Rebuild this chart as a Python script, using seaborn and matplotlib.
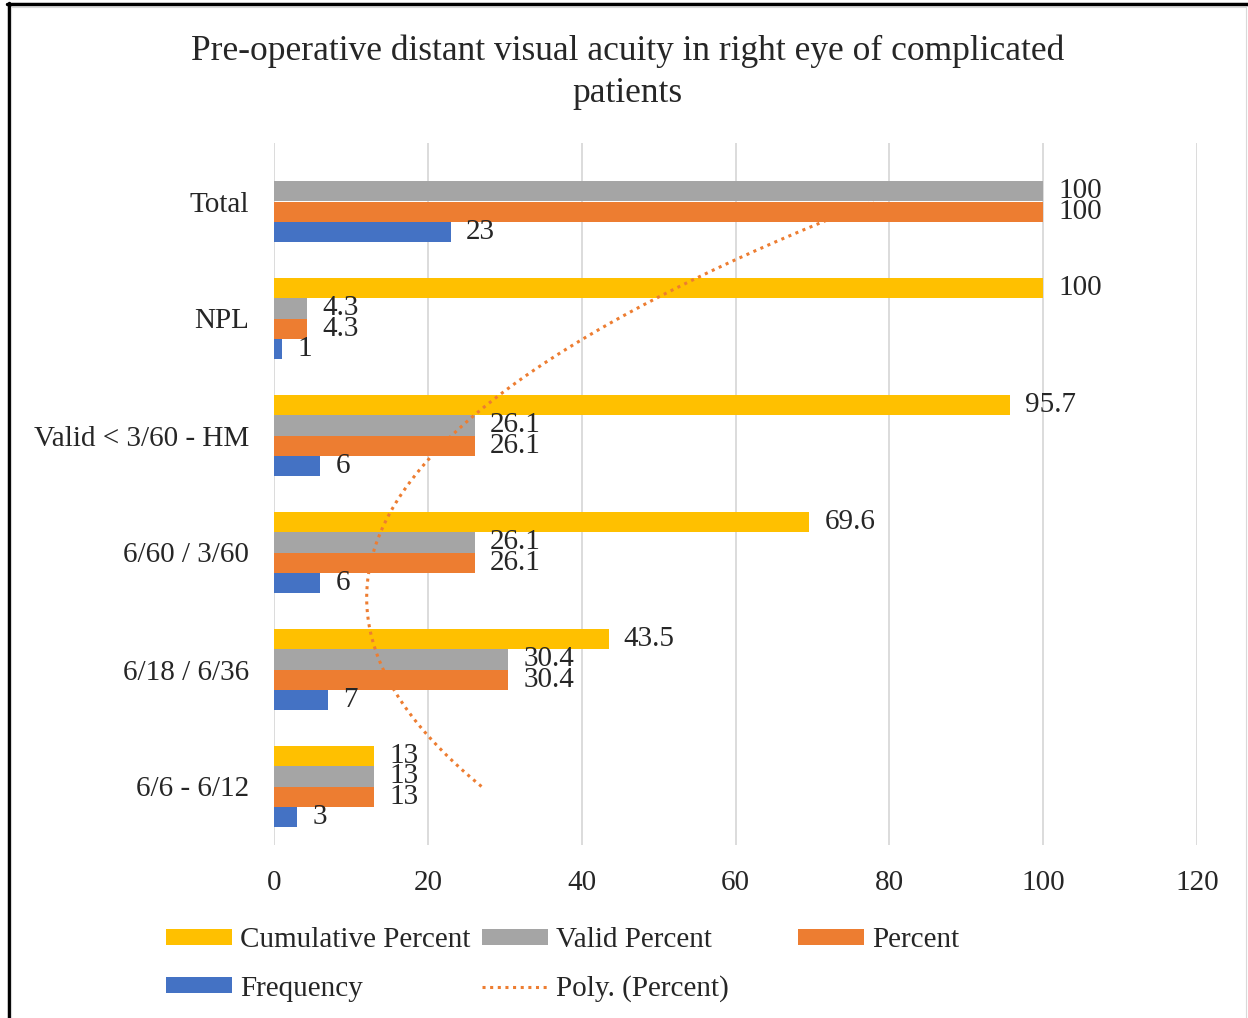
import matplotlib
matplotlib.use("Agg")
import matplotlib.pyplot as plt
from matplotlib.patches import Patch
from matplotlib.lines import Line2D
import seaborn as sns
import pandas as pd
import numpy as np

categories = ["6/6 - 6/12", "6/18 / 6/36", "6/60 / 3/60", "Valid < 3/60 - HM", "NPL", "Total"]
frequency = [3, 7, 6, 6, 1, 23]
percent = [13, 30.4, 26.1, 26.1, 4.3, 100]
valid_percent = [13, 30.4, 26.1, 26.1, 4.3, 100]
cumulative_percent = [13, 43.5, 69.6, 95.7, 100, np.nan]

series = ["Cumulative Percent", "Valid Percent", "Percent", "Frequency"]
colors = {"Cumulative Percent": "#FFC000", "Valid Percent": "#A5A5A5",
          "Percent": "#ED7D31", "Frequency": "#4472C4"}

sns.set_style("white")
plt.rcParams["font.family"] = ["Liberation Serif", "DejaVu Serif"]

FS = 21

rows = []
for name, vals in zip(series, [cumulative_percent, valid_percent, percent, frequency]):
    for cat, v in zip(categories, vals):
        rows.append({"category": cat, "series": name, "value": v})
df = pd.DataFrame(rows).dropna()

fig = plt.figure(figsize=(12.48, 10.18), dpi=100)
ax = fig.add_axes([274 / 1248, 173 / 1018, 923 / 1248, 702 / 1018])

sns.barplot(data=df, x="value", y="category", hue="series", orient="h",
            order=categories[::-1], hue_order=series, palette=colors,
            width=0.7, gap=0, errorbar=None, saturation=1, linewidth=0,
            legend=False, ax=ax)

for cont in ax.containers:
    ax.bar_label(cont, fmt="{:g}", padding=11, fontsize=FS)

# polynomial (order 2) trendline on Percent, as Excel draws it
t = np.arange(1, len(categories) + 1)
coef = np.polyfit(t, percent, 2)
ts = np.linspace(1, len(categories), 300)
ax.plot(np.polyval(coef, ts), len(categories) - ts, color="#ED7D31",
        linewidth=2.2, linestyle=(0, (1, 1.5)))

ax.set_xlim(0, 120)
ax.set_ylim(len(categories) - 0.5, -0.5)
ax.set_xticks(range(0, 121, 20))
ax.xaxis.grid(True, color="#d9d9d9", linewidth=1.3)
ax.set_axisbelow(True)
for s in ax.spines.values():
    s.set_visible(False)
ax.tick_params(axis="both", length=0, labelsize=FS)
ax.tick_params(axis="x", pad=18)
ax.tick_params(axis="y", pad=18)
ax.set_xlabel("")
ax.set_ylabel("")

fig.suptitle("Pre-operative distant visual acuity in right eye of complicated\npatients",
             x=0.503, y=0.966, fontsize=25.5, linespacing=1.36)

def handle(name):
    return Patch(facecolor=colors[name], edgecolor="none")

poly = Line2D([], [], color="#ED7D31", linewidth=2.2, linestyle=(0, (1, 1.5)))
leg_kw = dict(frameon=False, fontsize=FS, handlelength=2.26, handleheight=0.48,
              handletextpad=0.27, labelspacing=0.76, borderpad=0, borderaxespad=0,
              loc="center left")
fig.legend([handle("Cumulative Percent"), handle("Frequency")],
           ["Cumulative Percent", "Frequency"], bbox_to_anchor=(166 / 1248, 0.0525), **leg_kw)
fig.legend([handle("Valid Percent"), poly],
           ["Valid Percent", "Poly. (Percent)"], bbox_to_anchor=(482 / 1248, 0.0525), **leg_kw)
fig.legend([handle("Percent")], ["Percent"], bbox_to_anchor=(798 / 1248, 0.0766), **leg_kw)

# chart frame
fig.add_artist(Line2D([7 / 1248, 1], [1 - 4 / 1018, 1 - 4 / 1018], color="black", linewidth=2.5))
fig.add_artist(Line2D([8.5 / 1248, 8.5 / 1248], [0, 1 - 3 / 1018], color="black", linewidth=2.5))
fig.add_artist(Line2D([11 / 1248, 1246 / 1248], [1 - 6.5 / 1018, 1 - 6.5 / 1018], color="#d9d9d9", linewidth=0.8))
fig.add_artist(Line2D([11 / 1248, 11 / 1248], [0, 1 - 6.5 / 1018], color="#d9d9d9", linewidth=0.8))
fig.add_artist(Line2D([1246 / 1248, 1246 / 1248], [0, 1 - 6.5 / 1018], color="#d9d9d9", linewidth=0.8))

fig.savefig("out.png", dpi=100)
